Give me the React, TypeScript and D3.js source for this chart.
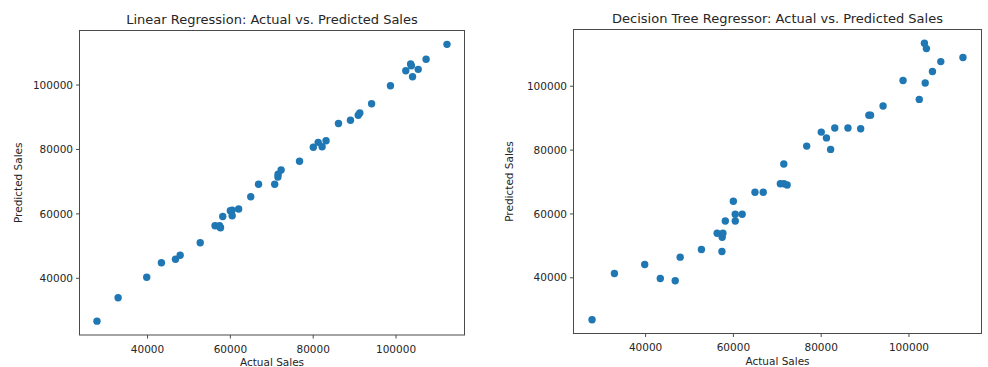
import React from "react";
import * as d3 from "d3";

// Test-set actual sales (shared by both models)
const actualSales: number[] = [
  27800, 32900, 39800, 43350, 46750, 47880, 52720, 56300, 57390, 57450,
  57620, 58160, 59990, 60420, 60430, 62000, 64920, 66800, 70700, 71480,
  71520, 72250, 76700, 80020, 81200, 82150, 83100, 86100, 89000, 90870,
  91250, 94100, 98650, 102350, 103520, 103700, 103980, 105350, 107250, 112300,
];

// Linear regression predictions
const linearPred: number[] = [
  26690, 33950, 40310, 44840, 45900, 47140, 51020, 56330, 56300, 55900,
  55710, 59180, 60950, 61100, 59430, 61510, 65330, 69180, 69180, 71440,
  72300, 73620, 76320, 80660, 82210, 80850, 82710, 88050, 89070, 90600,
  91310, 94200, 99780, 104440, 106520, 106000, 102580, 104870, 107980, 112630,
];

// Decision tree regressor predictions
const treePred: number[] = [
  26880, 41340, 44160, 39780, 39060, 46470, 48840, 53970, 48220, 52660,
  53970, 57810, 63970, 59910, 57810, 59910, 66810, 66810, 69470, 75630,
  69470, 69060, 81250, 85630, 83810, 80220, 86940, 86940, 86660, 90940,
  90940, 93810, 101810, 95880, 113440, 101030, 111780, 104590, 107720, 109000,
];

const xTickValues: number[] = [40000, 60000, 80000, 100000];
const yTickValues: number[] = [40000, 60000, 80000, 100000];

const titles: string[] = [
  "Linear Regression: Actual vs. Predicted Sales",
  "Decision Tree Regressor: Actual vs. Predicted Sales",
];
const xLabel = "Actual Sales";
const yLabel = "Predicted Sales";

const WIDTH = 988;
const HEIGHT = 367;
const FONT = "'DejaVu Sans', sans-serif";
const TEXT = "#262626";
const FRAME = "#4a4a4a";
const DOT = "#1f77b4";

// Matplotlib-style auto limits: data extent padded by 5% on each side
function paddedDomain(values: number[]): [number, number] {
  const [lo, hi] = d3.extent(values) as [number, number];
  const pad = (hi - lo) * 0.05;
  return [lo - pad, hi + pad];
}

type PanelProps = {
  box: { left: number; right: number; top: number; bottom: number };
  xs: number[];
  ys: number[];
  title: string;
  yLabelX: number;
};

function Panel({ box, xs, ys, title, yLabelX }: PanelProps) {
  const x = d3.scaleLinear().domain(paddedDomain(xs)).range([box.left, box.right]);
  const y = d3.scaleLinear().domain(paddedDomain(ys)).range([box.bottom, box.top]);
  const fmt = d3.format("d");
  const cx = (box.left + box.right) / 2;
  const cy = (box.top + box.bottom) / 2;
  const tick = 3.5;

  return (
    <g>
      <text x={cx} y={box.top - 6.8} textAnchor="middle" fontSize={13} fill={TEXT} fontFamily={FONT}>
        {title}
      </text>

      {xs.map((v, i) => (
        <circle key={i} cx={x(v)} cy={y(ys[i])} r={3.7} fill={DOT} />
      ))}

      <rect
        x={box.left}
        y={box.top}
        width={box.right - box.left}
        height={box.bottom - box.top}
        fill="none"
        stroke={FRAME}
        strokeWidth={1}
      />

      {xTickValues.map((t) => (
        <g key={`x${t}`}>
          <line x1={x(t)} x2={x(t)} y1={box.bottom} y2={box.bottom + tick} stroke={FRAME} />
          <text x={x(t)} y={box.bottom + 17.5} textAnchor="middle" fontSize={10.5} fill={TEXT} fontFamily={FONT}>
            {fmt(t)}
          </text>
        </g>
      ))}

      {yTickValues.map((t) => (
        <g key={`y${t}`}>
          <line x1={box.left - tick} x2={box.left} y1={y(t)} y2={y(t)} stroke={FRAME} />
          <text
            x={box.left - 6.5}
            y={y(t)}
            dy="0.35em"
            textAnchor="end"
            fontSize={10.5}
            fill={TEXT}
            fontFamily={FONT}
          >
            {fmt(t)}
          </text>
        </g>
      ))}

      <text x={cx} y={Math.min(box.bottom + 31, HEIGHT - 1.5)} textAnchor="middle" fontSize={10.5} fill={TEXT} fontFamily={FONT}>
        {xLabel}
      </text>
      <text
        transform={`translate(${yLabelX},${cy}) rotate(-90)`}
        textAnchor="middle"
        dy="0.35em"
        fontSize={10.5}
        fill={TEXT}
        fontFamily={FONT}
      >
        {yLabel}
      </text>
    </g>
  );
}

export default function App() {
  return (
    <svg
      width={WIDTH}
      height={HEIGHT}
      style={{ position: "absolute", left: 0, top: 0, background: "#fff" }}
    >
      <rect width={WIDTH} height={HEIGHT} fill="#fff" />
      <Panel
        box={{ left: 79.5, right: 464.5, top: 30.5, bottom: 335 }}
        xs={actualSales}
        ys={linearPred}
        title={titles[0]}
        yLabelX={18.5}
      />
      <Panel
        box={{ left: 573.5, right: 981.5, top: 29.5, bottom: 333.5 }}
        xs={actualSales}
        ys={treePred}
        title={titles[1]}
        yLabelX={509}
      />
    </svg>
  );
}
